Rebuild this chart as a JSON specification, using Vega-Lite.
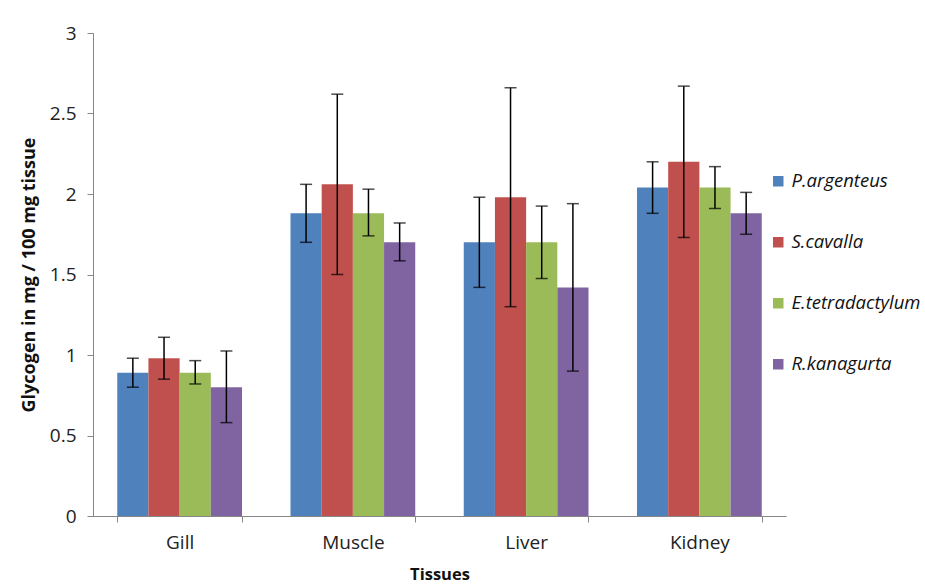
{
  "$schema": "https://vega.github.io/schema/vega-lite/v6.json",
  "width": 693,
  "height": 483,
  "autosize": "none",
  "padding": {"left": 93, "top": 33, "right": 139, "bottom": 70},
  "background": "white",
  "config": {"view": {"stroke": null}, "font": "Open Sans"},
  "data": {"values": [
    {"tissue": "Gill", "species": "P.argenteus", "mean": 0.89, "lo": 0.80, "hi": 0.98},
    {"tissue": "Gill", "species": "S.cavalla", "mean": 0.98, "lo": 0.85, "hi": 1.11},
    {"tissue": "Gill", "species": "E.tetradactylum", "mean": 0.89, "lo": 0.82, "hi": 0.965},
    {"tissue": "Gill", "species": "R.kanagurta", "mean": 0.80, "lo": 0.58, "hi": 1.025},
    {"tissue": "Muscle", "species": "P.argenteus", "mean": 1.88, "lo": 1.70, "hi": 2.06},
    {"tissue": "Muscle", "species": "S.cavalla", "mean": 2.06, "lo": 1.50, "hi": 2.62},
    {"tissue": "Muscle", "species": "E.tetradactylum", "mean": 1.88, "lo": 1.74, "hi": 2.03},
    {"tissue": "Muscle", "species": "R.kanagurta", "mean": 1.70, "lo": 1.585, "hi": 1.82},
    {"tissue": "Liver", "species": "P.argenteus", "mean": 1.70, "lo": 1.42, "hi": 1.98},
    {"tissue": "Liver", "species": "S.cavalla", "mean": 1.98, "lo": 1.30, "hi": 2.66},
    {"tissue": "Liver", "species": "E.tetradactylum", "mean": 1.70, "lo": 1.475, "hi": 1.925},
    {"tissue": "Liver", "species": "R.kanagurta", "mean": 1.42, "lo": 0.90, "hi": 1.94},
    {"tissue": "Kidney", "species": "P.argenteus", "mean": 2.04, "lo": 1.88, "hi": 2.20},
    {"tissue": "Kidney", "species": "S.cavalla", "mean": 2.20, "lo": 1.73, "hi": 2.67},
    {"tissue": "Kidney", "species": "E.tetradactylum", "mean": 2.04, "lo": 1.91, "hi": 2.17},
    {"tissue": "Kidney", "species": "R.kanagurta", "mean": 1.88, "lo": 1.75, "hi": 2.01}
  ]},
  "encoding": {
    "x": {
      "field": "tissue", "type": "nominal",
      "sort": ["Gill", "Muscle", "Liver", "Kidney"],
      "scale": {"paddingInner": 0.28, "paddingOuter": 0.14},
      "axis": {
        "title": "Tissues", "labelAngle": 0, "tickBand": "extent",
        "domainColor": "#868686", "tickColor": "#868686", "tickSize": 6,
        "labelFontSize": 19, "labelColor": "#222", "labelPadding": 11,
        "titleFontSize": 16.5, "titleFontWeight": "bold", "titleColor": "#111", "titlePadding": 14
      }
    },
    "xOffset": {
      "field": "species", "type": "nominal",
      "sort": ["P.argenteus", "S.cavalla", "E.tetradactylum", "R.kanagurta"],
      "scale": {"paddingInner": 0, "paddingOuter": 0}
    }
  },
  "layer": [
    {
      "mark": {"type": "bar"},
      "encoding": {
        "y": {
          "field": "mean", "type": "quantitative",
          "scale": {"domain": [0, 3], "nice": false},
          "axis": {
            "title": "Glycogen in mg / 100 mg tissue",
            "values": [0, 0.5, 1, 1.5, 2, 2.5, 3], "format": "~g", "grid": false,
            "domainColor": "#868686", "tickColor": "#868686", "tickSize": 6,
            "labelFontSize": 19, "labelColor": "#222", "labelPadding": 11,
            "titleFontSize": 18, "titleFontWeight": "bold", "titleColor": "#111", "titlePadding": 11
          }
        },
        "color": {
          "field": "species", "type": "nominal",
          "sort": ["P.argenteus", "S.cavalla", "E.tetradactylum", "R.kanagurta"],
          "scale": {"range": ["#4F81BD", "#C0504D", "#9BBB59", "#8064A2"]},
          "legend": {
            "title": null, "orient": "none", "legendX": 676, "legendY": 139,
            "symbolType": "square", "symbolSize": 110, "symbolStrokeWidth": 0,
            "labelFontSize": 18.5, "labelFontStyle": "italic", "labelColor": "#111",
            "rowPadding": 42, "labelOffset": 4, "labelLimit": 300
          }
        }
      }
    },
    {
      "mark": {"type": "rule", "color": "black", "strokeWidth": 1.5},
      "encoding": {
        "y": {"field": "lo", "type": "quantitative"},
        "y2": {"field": "hi"}
      }
    },
    {
      "mark": {"type": "tick", "color": "black", "size": 12, "thickness": 1.5},
      "encoding": {"y": {"field": "hi", "type": "quantitative"}}
    },
    {
      "mark": {"type": "tick", "color": "black", "size": 12, "thickness": 1.5},
      "encoding": {"y": {"field": "lo", "type": "quantitative"}}
    }
  ]
}
